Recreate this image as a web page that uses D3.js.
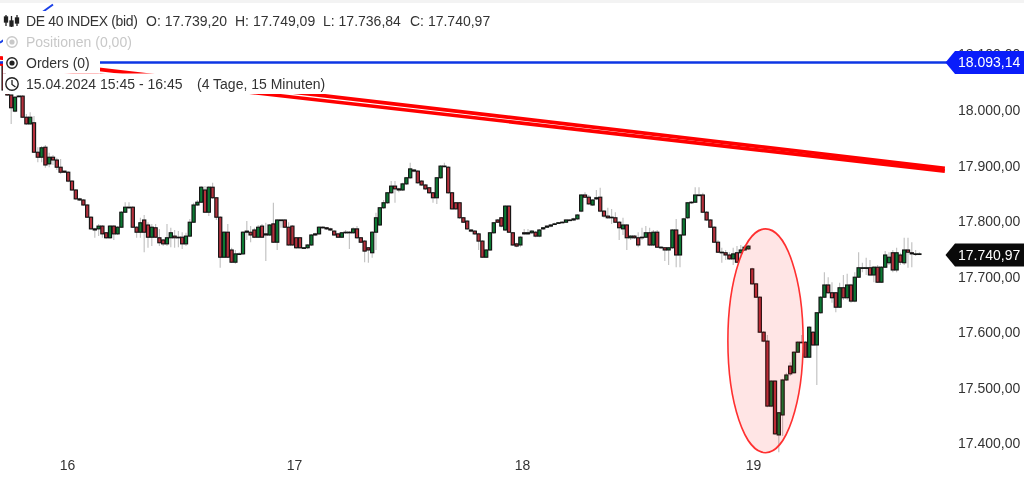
<!doctype html>
<html>
<head>
    <style>
        html, body { margin: 0; padding: 0; background: #fff; overflow: hidden; }
        svg { display: block; filter: blur(0.35px); }
        text { font-family: 'Liberation Sans', Arial, sans-serif; font-size: 14px; fill: #333; }
        text.muted { fill: #c8c8c8; }
    </style>
    <script src="https://d3js.org/d3.v7.min.js"></script>
</head>
<body>
<svg width="1024" height="478"></svg>
<script>
// 15 min candles
const opens = [
    18086,18036,18027,17998,18025,18025,17987,17975,17977,17924,
    17915,17933,17903,17915,17910,17897,17890,17888,17872,17856,
    17840,17838,17829,17807,17786,17786,17791,17779,17770,17791,
    17777,17789,17816,17825,17825,17789,17780,17802,17793,17771,
    17788,17770,17766,17759,17770,17773,17771,17771,17759,17773,
    17798,17829,17834,17856,17816,17861,17842,17807,17735,17780,
    17748,17726,17741,17741,17780,17780,17784,17771,17791,17777,
    17775,17795,17762,17802,17802,17789,17791,17770,17770,17752,
    17752,17757,17775,17777,17789,17788,17786,17782,17777,17771,
    17780,17779,17779,17786,17770,17764,17752,17743,17780,17793,
    17824,17833,17851,17863,17858,17856,17867,17878,17892,17890,
    17872,17865,17860,17851,17842,17878,17899,17897,17851,17833,
    17833,17806,17800,17784,17782,17777,17764,17735,17748,17779,
    17802,17806,17784,17827,17779,17759,17757,17779,17777,17779,
    17780,17773,17786,17789,17791,17795,17797,17798,17798,17802,
    17802,17804,17818,17847,17843,17829,17840,17843,17818,17809,
    17807,17806,17798,17786,17793,17770,17773,17770,17770,17771,
    17779,17757,17780,17753,17752,17748,17752,17784,17739,17775,
    17806,17833,17834,17847,17847,17816,17802,17789,17762,17744,
    17743,17739,17732,17743,17743,17748,17750,17714,17687,17663,
    17600,17584,17467,17512,17415,17451,17514,17539,17527,17564,
    17582,17582,17555,17600,17577,17635,17663,17685,17671,17671,
    17645,17680,17662,17685,17656,17699,17716,17716,17716,17703,
    17717,17690,17717,17725,17743,17712,17739,17725,17748,17743,17741,17741
];
const closes = [
    18036,18027,18004,18023,18025,17987,17975,17987,17924,17915,
    17932,17901,17915,17910,17897,17888,17888,17872,17856,17840,
    17838,17829,17807,17786,17784,17791,17777,17770,17791,17777,
    17789,17816,17825,17825,17789,17780,17797,17780,17771,17789,
    17771,17761,17759,17770,17779,17770,17770,17759,17773,17798,
    17829,17834,17861,17816,17861,17842,17807,17735,17780,17735,
    17726,17741,17741,17780,17782,17775,17771,17789,17771,17775,
    17793,17762,17802,17802,17789,17757,17757,17752,17752,17752,
    17757,17775,17777,17789,17788,17786,17784,17775,17771,17779,
    17779,17780,17786,17770,17762,17746,17748,17780,17806,17824,
    17833,17851,17863,17858,17856,17867,17878,17894,17890,17869,
    17865,17858,17851,17842,17878,17899,17899,17851,17822,17822,
    17806,17798,17786,17782,17777,17764,17735,17748,17779,17797,
    17798,17791,17827,17780,17757,17755,17771,17777,17779,17782,
    17773,17784,17788,17791,17793,17795,17797,17798,17802,17802,
    17804,17811,17847,17843,17831,17838,17842,17818,17809,17806,
    17806,17798,17788,17793,17770,17773,17770,17757,17771,17779,
    17757,17780,17753,17753,17748,17752,17784,17739,17775,17804,
    17833,17834,17847,17847,17816,17802,17789,17762,17744,17743,
    17739,17732,17741,17726,17748,17753,17755,17687,17663,17600,
    17584,17467,17512,17417,17455,17514,17523,17525,17564,17582,
    17582,17555,17609,17577,17635,17663,17685,17671,17662,17645,
    17680,17662,17685,17656,17699,17716,17716,17716,17703,17717,
    17690,17717,17739,17735,17712,17743,17726,17748,17744,17741,17741,17741
];
const highs = [
    18090,18038,18027,18025,18027,18027,17993,17996,17989,17933,
    17935,17937,17923,17919,17914,17912,17890,17890,17874,17858,
    17842,17840,17831,17809,17788,17795,17793,17780,17793,17793,
    17791,17818,17834,17834,17827,17791,17806,17811,17798,17795,
    17795,17786,17768,17795,17788,17784,17782,17780,17779,17804,
    17833,17838,17863,17863,17863,17869,17843,17809,17782,17795,
    17752,17748,17744,17782,17800,17791,17788,17793,17795,17797,
    17795,17833,17804,17804,17804,17798,17793,17771,17771,17753,
    17759,17777,17779,17791,17791,17789,17788,17784,17779,17780,
    17784,17782,17789,17791,17771,17766,17753,17782,17815,17825,
    17838,17852,17872,17872,17860,17869,17879,17905,17894,17892,
    17874,17867,17861,17852,17879,17901,17905,17899,17852,17834,
    17834,17807,17802,17786,17784,17779,17766,17750,17780,17798,
    17804,17807,17829,17829,17780,17761,17773,17786,17786,17784,
    17782,17786,17789,17793,17795,17797,17798,17800,17804,17804,
    17806,17813,17849,17852,17847,17840,17856,17860,17820,17824,
    17822,17816,17800,17806,17795,17775,17775,17780,17788,17791,
    17788,17784,17784,17755,17753,17753,17786,17804,17777,17806,
    17834,17836,17861,17861,17851,17818,17804,17791,17766,17752,
    17748,17744,17752,17755,17757,17757,17757,17716,17689,17665,
    17602,17595,17514,17514,17456,17516,17527,17546,17566,17584,
    17595,17584,17611,17602,17636,17665,17708,17699,17690,17672,
    17689,17703,17705,17687,17708,17744,17725,17734,17730,17719,
    17721,17719,17746,17744,17748,17752,17743,17770,17770,17762,17748,17744
];
const lows = [
    18034,18025,17975,17996,18023,17986,17973,17973,17923,17906,
    17906,17896,17897,17901,17892,17885,17887,17870,17854,17838,
    17836,17827,17806,17784,17770,17773,17770,17768,17768,17766,
    17775,17788,17815,17822,17788,17770,17770,17744,17752,17755,
    17770,17755,17755,17755,17753,17752,17753,17750,17755,17771,
    17797,17827,17833,17815,17809,17840,17802,17716,17734,17734,
    17725,17723,17739,17739,17766,17762,17770,17770,17770,17728,
    17773,17761,17748,17788,17788,17755,17755,17750,17750,17750,
    17750,17755,17773,17775,17786,17784,17782,17773,17770,17770,
    17777,17750,17777,17768,17761,17726,17725,17734,17748,17791,
    17822,17831,17849,17833,17852,17854,17865,17876,17888,17867,
    17863,17856,17849,17833,17831,17876,17897,17849,17820,17820,
    17804,17797,17784,17780,17775,17748,17734,17734,17746,17777,
    17797,17789,17782,17779,17755,17753,17753,17775,17775,17777,
    17771,17771,17784,17788,17789,17793,17795,17797,17797,17800,
    17800,17802,17816,17842,17829,17827,17838,17816,17806,17804,
    17795,17797,17766,17775,17748,17766,17768,17753,17766,17770,
    17755,17755,17752,17750,17728,17721,17750,17717,17717,17773,
    17804,17831,17833,17845,17815,17800,17788,17761,17743,17725,
    17730,17730,17721,17725,17734,17746,17748,17685,17662,17599,
    17582,17465,17465,17415,17384,17413,17512,17521,17525,17563,
    17581,17554,17554,17575,17505,17633,17662,17669,17653,17636,
    17644,17658,17658,17653,17654,17698,17708,17703,17701,17690,
    17689,17689,17716,17721,17708,17708,17721,17721,17716,17717,17737,17739
];

const yTicks = [18100, 18000, 17900, 17800, 17700, 17600, 17500, 17400];
const dayLabels = ['16', '17', '18', '19'];
const dayIndex = [16.7, 76.4, 136.4, 197.2];

const orderLevel = 18093.14;
const lastClose = 17740.97;

// trend lines, [candle index] and [price]
const redIdx = [-0.95, 247.7];
const redUpper = [18094, 17895];
const redLower = [18083, 17890];
const blueIdx = [-0.95, 13];
const bluePrice = [18121, 18190];

// the marked area around the sell off
const ellipseIdx = [190.6, 210.4];
const ellipsePrice = [17786, 17383];

const titleParts = ['DE 40 INDEX (bid)', 'O: 17.739,20', 'H: 17.749,09', 'L: 17.736,84', 'C: 17.740,97'];
const titleX = [26, 146, 235, 323, 410];

const svg = d3.select('svg');
const width = 1024;

const xScale = d3.scaleLinear().domain([0, 241]).range([3.6, 919.4]);
const yScale = d3.scaleLinear().domain([18000, 17400]).range([110, 443.3]);

const price = d3.formatLocale({ decimal: ',', thousands: '.', grouping: [3], currency: ['', ''] }).format(',.2f');

svg.append('rect').attr('width', width).attr('height', 3).attr('fill', '#f3f3f3');

// axes
const yAxis = svg.append('g')
    .attr('transform', 'translate(958, 0)')
    .call(d3.axisRight(yScale).tickValues(yTicks).tickFormat(price).tickSize(0).tickPadding(0));
yAxis.select('.domain').remove();
yAxis.selectAll('text').attr('fill', null);

const xAxis = svg.append('g')
    .attr('transform', 'translate(0, 460)')
    .call(d3.axisBottom(xScale).tickValues(dayIndex).tickFormat((d, i) => dayLabels[i]).tickSize(0).tickPadding(0));
xAxis.select('.domain').remove();
xAxis.selectAll('text').attr('fill', null);

// candles
const bodyWidth = 3.2;
const candles = svg.append('g');

candles.selectAll('line')
    .data(opens)
    .enter()
    .append('line')
    .attr('x1', (d, i) => xScale(i))
    .attr('x2', (d, i) => xScale(i))
    .attr('y1', (d, i) => yScale(highs[i]))
    .attr('y2', (d, i) => yScale(lows[i]))
    .attr('stroke', '#c4c4c4')
    .attr('stroke-width', 1.2);

candles.selectAll('rect')
    .data(opens)
    .enter()
    .append('rect')
    .attr('x', (d, i) => xScale(i) - bodyWidth / 2)
    .attr('y', (d, i) => yScale(Math.max(d, closes[i])))
    .attr('width', bodyWidth)
    // flat candles still have to show up as a black dash
    .attr('height', (d, i) => Math.max(0.6, Math.abs(yScale(d) - yScale(closes[i]))))
    .attr('fill', (d, i) => closes[i] >= d ? '#0c7a33' : '#b5303c')
    .attr('stroke', '#111')
    .attr('stroke-width', 1.1);

// marked area
svg.append('ellipse')
    .attr('cx', (xScale(ellipseIdx[0]) + xScale(ellipseIdx[1])) / 2)
    .attr('cy', (yScale(ellipsePrice[0]) + yScale(ellipsePrice[1])) / 2)
    .attr('rx', (xScale(ellipseIdx[1]) - xScale(ellipseIdx[0])) / 2)
    .attr('ry', (yScale(ellipsePrice[1]) - yScale(ellipsePrice[0])) / 2)
    .attr('fill', '#ff0000')
    .attr('fill-opacity', 0.1)
    .attr('stroke', '#ff3030')
    .attr('stroke-width', 1.6);

// lines
const trend = d3.line().x((d) => xScale(d[0])).y((d) => yScale(d[1]));

[redUpper, redLower].forEach((series) => {
    svg.append('path')
        .attr('d', trend(redIdx.map((d, i) => [d, series[i]])))
        .attr('fill', 'none')
        .attr('stroke', '#ff0000')
        .attr('stroke-width', 3.7);
});

svg.append('path')
    .attr('d', trend(blueIdx.map((d, i) => [d, bluePrice[i]])))
    .attr('fill', 'none')
    .attr('stroke', '#1a40e8')
    .attr('stroke-width', 2);

// the labels in this screenshot sit a little below the axis position of their value
const orderY = yScale(orderLevel) + 4.3;
const lastY = yScale(lastClose) + 1.1;

svg.append('line')
    .attr('x1', 0).attr('x2', 950)
    .attr('y1', orderY).attr('y2', orderY)
    .attr('stroke', '#0c36e4')
    .attr('stroke-width', 2.6);

function priceTag(y, value, color) {
    const h = 11.5;
    svg.append('path')
        .attr('d', `M945.5,${y} L955,${y - h} L1024,${y - h} L1024,${y + h} L955,${y + h} Z`)
        .attr('fill', color);
    svg.append('text')
        .attr('x', 958)
        .attr('y', y)
        .attr('dy', '0.34em')
        .style('fill', '#fff')
        .text(price(value));
}
priceTag(orderY, orderLevel, '#0a1dfa');
priceTag(lastY, lastClose, '#0a0a0a');

// header rows have a white background which hides the chart
const rows = [
    { y: 11, h: 21, w: 492 },
    { y: 32, h: 21, w: 136 },
    { y: 53, h: 20.5, w: 97 },
    { y: 73.5, h: 20.5, w: 325 }
];
svg.selectAll('rect.mask')
    .data(rows)
    .enter()
    .append('rect')
    .attr('class', 'mask')
    .attr('x', 3)
    .attr('y', (d) => d.y)
    .attr('width', (d) => d.w)
    .attr('height', (d) => d.h)
    .attr('fill', '#fff');

const header = svg.append('g');

header.selectAll('text.title')
    .data(titleParts)
    .enter()
    .append('text')
    .attr('class', 'title')
    .attr('x', (d, i) => titleX[i])
    .attr('y', 26)
    .style('letter-spacing', (d, i) => i === 0 ? '-0.35px' : null)
    .text((d) => d);

header.append('text').attr('class', 'muted').attr('x', 26).attr('y', 47).text('Positionen (0,00)');
header.append('text').attr('x', 26).attr('y', 68).text('Orders (0)');
header.append('text').attr('x', 26).attr('y', 89).text('15.04.2024 15:45 - 16:45');
header.append('text').attr('x', 197).attr('y', 89).text('(4 Tage, 15 Minuten)');

// icons
const icon = header.append('g').attr('stroke', '#222').attr('fill', 'none').attr('stroke-width', 1.3);
[[6, 15, 26, 17, 22], [11.5, 16, 27, 21, 26], [17, 15, 26, 18, 23]].forEach((c) => {
    icon.append('line').attr('x1', c[0]).attr('x2', c[0]).attr('y1', c[1]).attr('y2', c[2]);
    icon.append('rect').attr('x', c[0] - 1.5).attr('y', c[3]).attr('width', 3).attr('height', c[4] - c[3]).attr('fill', '#222');
});

[[42, '#c8c8c8'], [63, '#222']].forEach((r) => {
    header.append('circle').attr('cx', 12).attr('cy', r[0]).attr('r', 5.2)
        .attr('fill', 'none').attr('stroke', r[1]).attr('stroke-width', 1.4);
    header.append('circle').attr('cx', 12).attr('cy', r[0]).attr('r', 2.6).attr('fill', r[1]);
});

header.append('circle').attr('cx', 12).attr('cy', 84).attr('r', 6.2)
    .attr('fill', 'none').attr('stroke', '#222').attr('stroke-width', 1.4);
header.append('path').attr('d', 'M12,80 L12,84.5 L15.5,87')
    .attr('fill', 'none').attr('stroke', '#222').attr('stroke-width', 1.3);
</script>
</body>
</html>
